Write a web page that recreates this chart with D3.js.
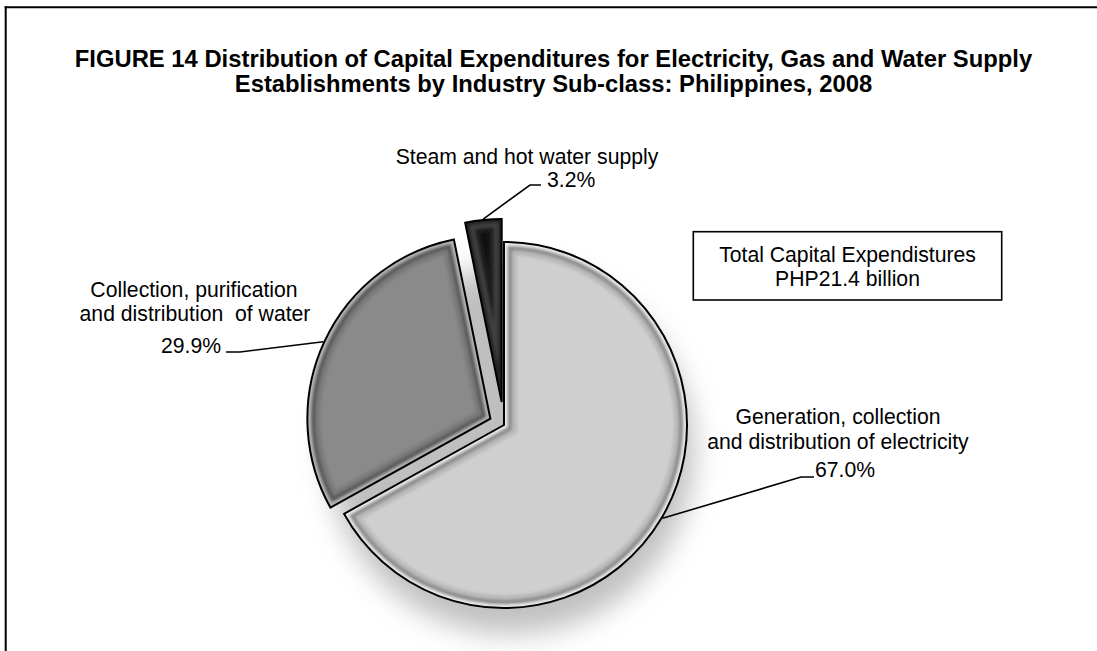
<!DOCTYPE html>
<html>
<head>
<meta charset="utf-8">
<script src="https://cdn.jsdelivr.net/npm/d3@7"></script>
<style>
  html, body { margin: 0; padding: 0; background: #fff; overflow: hidden; width: 1097px; height: 651px; }
  svg { display: block; overflow: hidden; }
  text { font-family: "Liberation Sans", Arial, sans-serif; fill: #000; }
</style>
</head>
<body>
<svg id="chart" width="1097" height="651"></svg>
<script>
// ---- data ----
const categories = [
  "Generation, collection and distribution of electricity",
  "Collection, purification and distribution of water",
  "Steam and hot water supply"
];
const values = [67.0, 29.9, 3.2];
const valueLabels = ["67.0%", "29.9%", "3.2%"];
const labelLines = [
  ["Generation, collection", "and distribution of electricity"],
  ["Collection, purification", "and distribution\u00a0 of water"],
  ["Steam and hot water supply"]
];
const titleLines = [
  "FIGURE 14 Distribution of Capital Expenditures for Electricity, Gas and Water Supply",
  "Establishments by Industry Sub-class: Philippines, 2008"
];
const noteLines = ["Total Capital Expendistures", "PHP21.4 billion"];

// ---- styles / layout ----
const W = 1097, H = 651;
const cx = 504, cy = 425, R = 183;
const explode = [0, 15, 23];
const fills = [
  {base: "#cfcfcf", c1: "#bababa", c2: "#8a8a8a", c3: "#eeeeee"},
  {base: "#8a8a8a", c1: "#7a7a7a", c2: "#585858", c3: "#b8b8b8"},
  {base: "#101010", c1: "#1c1c1c", c2: "#404040", c3: "#202020"}
];
// label layout: text line centers/baselines, percent position, leader elbow
const labelLayout = [
  {lines: [[838, 424], [838, 449]], pct: [815, 477], pctAnchor: "start", elbow: [[801, 477], [814, 477]]},
  {lines: [[194, 297], [195, 321]], pct: [221, 353], pctAnchor: "end", elbow: [[240, 352], [226, 352]]},
  {lines: [[527, 164]], pct: [547, 187], pctAnchor: "start", elbow: [[530, 185], [541, 185]]}
];

const svg = d3.select("#chart");
const defs = svg.append("defs");

defs.append("filter").attr("id", "shadowBlur")
  .attr("x", "-30%").attr("y", "-30%").attr("width", "160%").attr("height", "160%")
  .append("feGaussianBlur").attr("stdDeviation", 14);
defs.append("filter").attr("id", "bevelBlur")
  .append("feGaussianBlur").attr("stdDeviation", 1.6);

// frame (left and top edges; right/bottom lie outside the picture)
svg.append("line").attr("x1", 5.7).attr("y1", 6.2).attr("x2", 5.7).attr("y2", H)
  .attr("stroke", "#000").attr("stroke-width", 2);
svg.append("line").attr("x1", 4.7).attr("y1", 7.2).attr("x2", W).attr("y2", 7.2)
  .attr("stroke", "#000").attr("stroke-width", 2);

// title
const title = svg.append("text")
  .attr("text-anchor", "middle")
  .style("font-weight", "bold").style("font-size", "23.8px");
titleLines.forEach((t, i) => {
  title.append("tspan").attr("x", 553.5).attr("y", 66.7 + i * 25.6).text(t);
});

// pie
const pie = d3.pie().sort(null).value(d => d).startAngle(0).endAngle(2 * Math.PI);
const arcs = pie(values);
const arcGen = d3.arc().innerRadius(0).outerRadius(R);

const g = svg.append("g").attr("transform", `translate(${cx},${cy})`);

// shadow
g.append("circle")
  .attr("cx", 7).attr("cy", 26).attr("r", R)
  .attr("fill", "#b0b0b0").attr("opacity", 0.8)
  .attr("filter", "url(#shadowBlur)");

arcs.forEach((a, i) => {
  const mid = (a.startAngle + a.endAngle) / 2;
  const dx = Math.sin(mid) * explode[i];
  const dy = -Math.cos(mid) * explode[i];
  const tx = cx + dx, ty = cy + dy;
  const d = arcGen(a);
  const clipId = "clip" + i;
  defs.append("clipPath").attr("id", clipId).append("path")
    .attr("d", d).attr("transform", `translate(${tx},${ty})`);
  svg.append("path").attr("d", d).attr("transform", `translate(${tx},${ty})`)
    .attr("fill", fills[i].base);
  const bev = svg.append("g").attr("clip-path", `url(#${clipId})`);
  const bg = bev.append("g").attr("transform", `translate(${tx},${ty})`)
    .attr("filter", "url(#bevelBlur)");
  [[26, fills[i].c1], [16, fills[i].c2], [7, fills[i].c3]].forEach(([w, c]) => {
    bg.append("path").attr("d", d).attr("fill", "none")
      .attr("stroke", c).attr("stroke-width", w).attr("stroke-linejoin", "miter");
  });
  svg.append("path").attr("d", d)
    .attr("transform", `translate(${tx},${ty})`)
    .attr("fill", "none").attr("stroke", "#000").attr("stroke-width", 2)
    .attr("stroke-linejoin", "miter");

  // leader line from slice edge at mid angle
  const L = labelLayout[i];
  const px = tx + Math.sin(mid) * (R + 1);
  const py = ty - Math.cos(mid) * (R + 1);
  svg.append("path")
    .attr("d", `M${px},${py} L${L.elbow[0][0]},${L.elbow[0][1]} L${L.elbow[1][0]},${L.elbow[1][1]}`)
    .attr("fill", "none").attr("stroke", "#000").attr("stroke-width", 1.6);

  labelLines[i].forEach((t, j) => {
    svg.append("text").attr("x", L.lines[j][0]).attr("y", L.lines[j][1])
      .attr("text-anchor", "middle").style("font-size", "21.2px").text(t);
  });
  svg.append("text").attr("x", L.pct[0]).attr("y", L.pct[1])
    .attr("text-anchor", L.pctAnchor).style("font-size", "21.2px").text(valueLabels[i]);
});

// note box
svg.append("rect")
  .attr("x", 693.3).attr("y", 231.7).attr("width", 308.4).attr("height", 68.3)
  .attr("fill", "#fff").attr("stroke", "#000").attr("stroke-width", 1.6);
noteLines.forEach((t, i) => {
  svg.append("text").attr("x", 847.5).attr("y", 262.3 + i * 23.5)
    .attr("text-anchor", "middle").style("font-size", "21.2px").text(t);
});
</script>
</body>
</html>
